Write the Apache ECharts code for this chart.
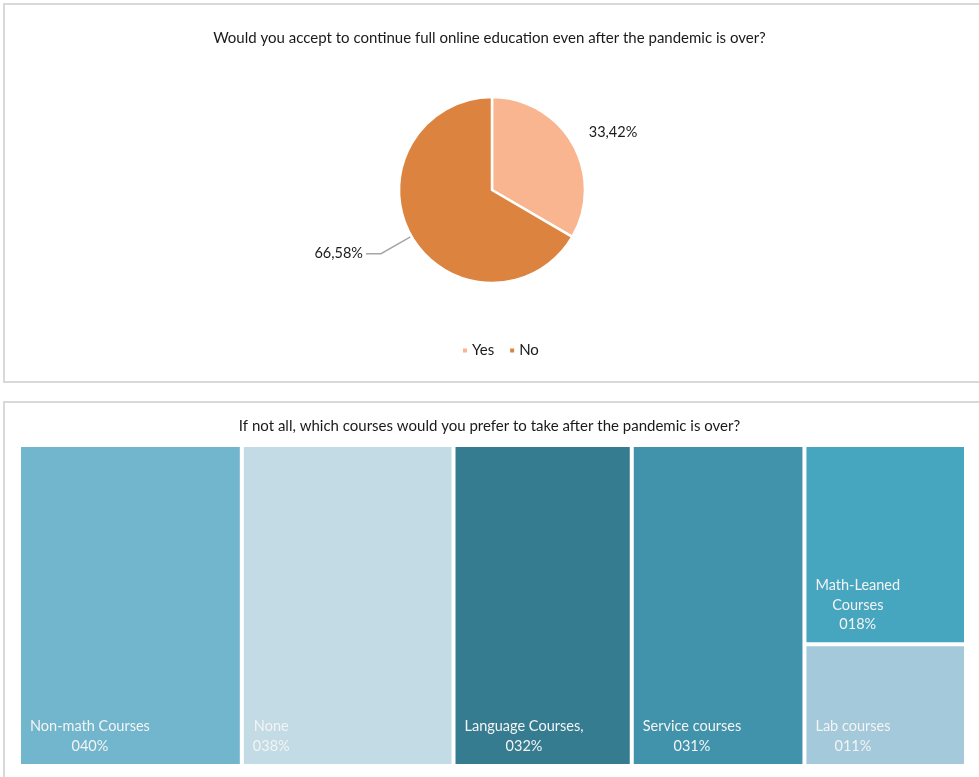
<!DOCTYPE html>
<html><head><meta charset="utf-8">
<script src="https://cdn.jsdelivr.net/npm/echarts@6/dist/echarts.min.js"></script>
<style>html,body{margin:0;padding:0;background:#fff}#c{width:979px;height:777px}</style>
</head><body><div id="c"></div>
<script>
// ---- data ----
const pieTitle = 'Would you accept to continue full online education even after the pandemic is over?';
const pieCategories = ['Yes', 'No'];
const pieValues = [33.42, 66.58];
const pieColors = ['#F8B58F', '#DC843F'];

const treeTitle = 'If not all, which courses would you prefer to take after the pandemic is over?';
const courseCategories = ['Non-math Courses', 'None', 'Language Courses,', 'Service courses', 'Math-Leaned Courses', 'Lab courses'];
const courseLabelText = ['Non-math Courses', 'None', 'Language Courses,', 'Service courses', 'Math-Leaned\nCourses', 'Lab courses'];
const courseValues = [40, 38, 32, 31, 18, 11];
const courseColors = ['#71B6CD', '#C2DBE4', '#367C91', '#4192AB', '#46A5BF', '#A3C9DA'];

// ---- styling ----
const FONT = 'Lato';
const TXT = '#1a1a1a';
const LBL_SIZE = 14.5;

const cv = document.createElement('canvas').getContext('2d');
function textW(s, size) { cv.font = size + 'px ' + FONT; return cv.measureText(s).width; }
function pct(v) { return String(v).padStart(3, '0') + '%'; }
function pieFmt(v) { return v.toFixed(2).replace('.', ',') + '%'; }

const pieData = pieCategories.map((n, i) => ({
  name: n, value: pieValues[i], itemStyle: { color: pieColors[i] },
  label: i === 0 ? { distanceToLabelLine: -3 } : { distanceToLabelLine: 3 },
  labelLine: i === 0 ? { show: false, length: 22, length2: 0 } : { show: true, length: 35, length2: 15 }
}));

const treeData = courseCategories.map((n, i) => {
  const txt = courseLabelText[i] + '\n' + pct(courseValues[i]);
  const w = Math.max(...txt.split('\n').map(s => textW(s, LBL_SIZE)));
  return {
    name: n, value: courseValues[i],
    itemStyle: { color: courseColors[i] },
    label: {
      formatter: txt,
      position: [9 + w / 2, '100%'],
      align: 'center', verticalAlign: 'bottom', offset: [0, -8]
    }
  };
});

const chart = echarts.init(document.getElementById('c'), null, { renderer: 'canvas' });
chart.setOption({
  animation: false,
  textStyle: { fontFamily: FONT },
  graphic: [
    { type: 'rect', shape: { x: 4, y: 4, width: 990, height: 378 }, style: { fill: 'none', stroke: '#D9D9D9', lineWidth: 2 }, z: -10 },
    { type: 'rect', shape: { x: 4, y: 402, width: 990, height: 400 }, style: { fill: 'none', stroke: '#D9D9D9', lineWidth: 2 }, z: -10 }
  ],
  title: [
    { text: pieTitle, left: 'center', top: 26, textStyle: { fontFamily: FONT, fontWeight: 'normal', fontSize: 15, color: TXT } },
    { text: treeTitle, left: 'center', top: 414, textStyle: { fontFamily: FONT, fontWeight: 'normal', fontSize: 15, color: TXT } }
  ],
  legend: {
    data: pieCategories, left: 456, top: 338, icon: 'rect', itemWidth: 6, itemHeight: 6, itemGap: 14,
    textStyle: { fontFamily: FONT, fontSize: 15, color: TXT, padding: [0, 0, 0, -1] }, selectedMode: false
  },
  series: [
    {
      type: 'pie', center: [492, 190], radius: 93, startAngle: 90, clockwise: true,
      silent: true,
      itemStyle: { borderColor: '#fff', borderWidth: 2.5 },
      label: { show: true, position: 'outside', formatter: p => pieFmt(p.value), fontFamily: FONT, fontSize: 14.5, color: TXT },
      labelLine: { lineStyle: { color: '#A6A6A6', width: 1.5 }, smooth: false },
      data: pieData
    },
    {
      type: 'treemap', left: 21, top: 447, width: 943, height: 317,
      squareRatio: 1,
      roam: false, nodeClick: false, silent: true,
      breadcrumb: { show: false },
      sort: 'desc',
      itemStyle: { borderWidth: 0, gapWidth: 4, borderColor: '#fff' },
      label: { show: true, fontFamily: FONT, fontSize: LBL_SIZE, color: '#F4F4F4', lineHeight: 19.5, padding: 0 },
      levels: [{ itemStyle: { borderWidth: 0, gapWidth: 4, borderColor: '#fff' } }],
      data: treeData
    }
  ]
});
</script></body></html>
